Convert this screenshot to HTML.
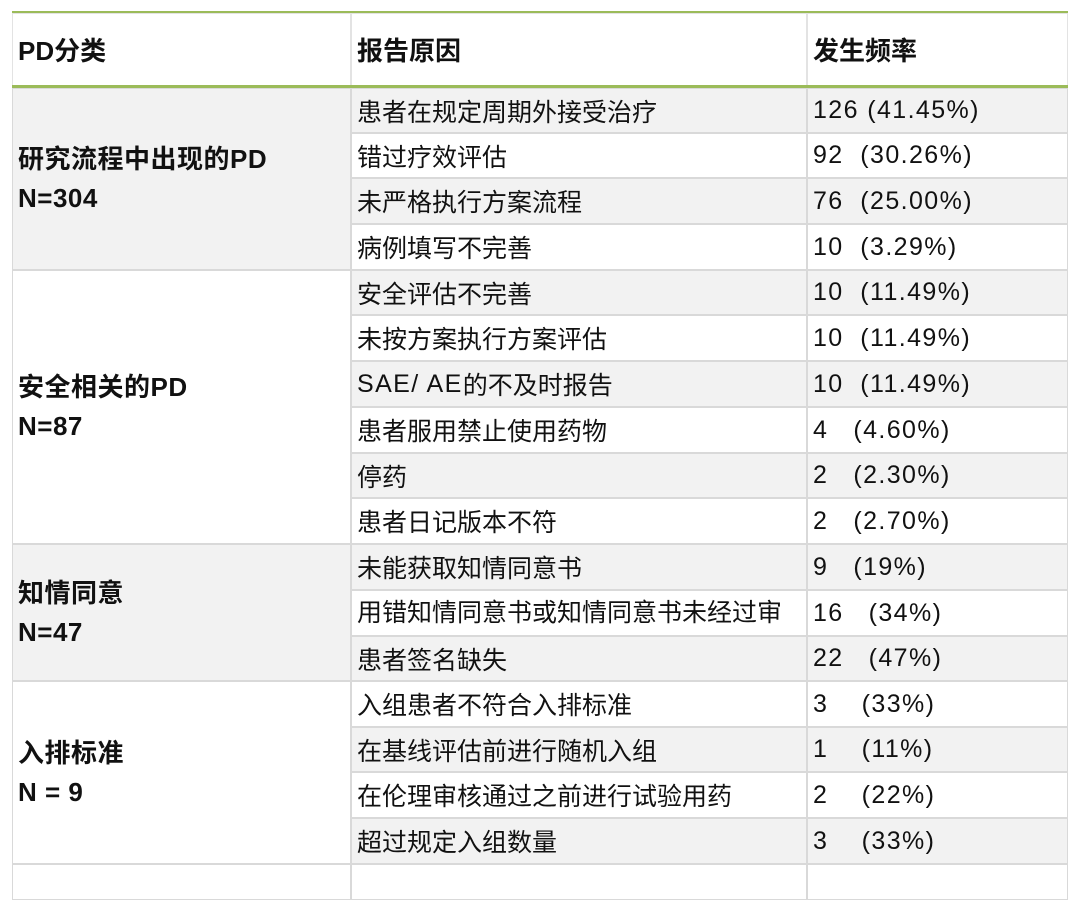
<!DOCTYPE html>
<html><head><meta charset="utf-8"><style>
html,body{margin:0;padding:0;background:#fff;width:1080px;height:913px;overflow:hidden}
body{position:relative;font-family:"Liberation Sans","Noto Sans CJK SC",sans-serif;color:#111}
.c{position:absolute;box-sizing:border-box;border:1px solid #d9d9d9;font-size:25px;display:flex;align-items:center;padding-left:5px;white-space:nowrap;overflow:hidden}
.n{letter-spacing:1.4px}
.g{background:#f2f2f2}
.w{background:#fff}
.h{font-weight:bold;border-color:#e3e3e3;font-size:26px}
.grp{font-weight:bold;line-height:39px;padding-left:5px;letter-spacing:0.5px;font-size:26px}
</style></head><body>
<div style="position:absolute;left:12px;top:11px;width:1056px;height:2px;background:#9bbb59"></div>
<div class="c w h" style="left:12px;top:13px;width:339px;height:73px">PD分类</div>
<div class="c w h" style="left:351px;top:13px;width:456px;height:73px">报告原因</div>
<div class="c w h" style="left:807px;top:13px;width:261px;height:73px">发生频率</div>
<div style="position:absolute;left:12px;top:85px;width:1056px;height:3px;background:#9bbb59"></div>

<div class="c g grp" style="left:12px;top:88px;width:339px;height:182px">研究流程中出现的PD<br>N=304</div>
<div class="c w grp" style="left:12px;top:270px;width:339px;height:274px">安全相关的PD<br>N=87</div>
<div class="c g grp" style="left:12px;top:544px;width:339px;height:137px">知情同意<br>N=47</div>
<div class="c w grp" style="left:12px;top:681px;width:339px;height:183px">入排标准<br>N = 9</div>
<div class="c w" style="left:12px;top:864px;width:339px;height:36px"></div>

<div class="c g" style="left:351px;top:88px;width:456px;height:45px">患者在规定周期外接受治疗</div>
<div class="c g n" style="left:807px;top:88px;width:261px;height:45px">126 (41.45%)</div>
<div class="c w" style="left:351px;top:133px;width:456px;height:45px">错过疗效评估</div>
<div class="c w n" style="left:807px;top:133px;width:261px;height:45px">92&nbsp; (30.26%)</div>
<div class="c g" style="left:351px;top:178px;width:456px;height:46px">未严格执行方案流程</div>
<div class="c g n" style="left:807px;top:178px;width:261px;height:46px">76&nbsp; (25.00%)</div>
<div class="c w" style="left:351px;top:224px;width:456px;height:46px">病例填写不完善</div>
<div class="c w n" style="left:807px;top:224px;width:261px;height:46px">10&nbsp; (3.29%)</div>
<div class="c g" style="left:351px;top:270px;width:456px;height:45px">安全评估不完善</div>
<div class="c g n" style="left:807px;top:270px;width:261px;height:45px">10&nbsp; (11.49%)</div>
<div class="c w" style="left:351px;top:315px;width:456px;height:46px">未按方案执行方案评估</div>
<div class="c w n" style="left:807px;top:315px;width:261px;height:46px">10&nbsp; (11.49%)</div>
<div class="c g" style="left:351px;top:361px;width:456px;height:46px"><span class="n">SAE/ AE</span>的不及时报告</div>
<div class="c g n" style="left:807px;top:361px;width:261px;height:46px">10&nbsp; (11.49%)</div>
<div class="c w" style="left:351px;top:407px;width:456px;height:46px">患者服用禁止使用药物</div>
<div class="c w n" style="left:807px;top:407px;width:261px;height:46px">4&nbsp;&nbsp; (4.60%)</div>
<div class="c g" style="left:351px;top:453px;width:456px;height:45px">停药</div>
<div class="c g n" style="left:807px;top:453px;width:261px;height:45px">2&nbsp;&nbsp; (2.30%)</div>
<div class="c w" style="left:351px;top:498px;width:456px;height:46px">患者日记版本不符</div>
<div class="c w n" style="left:807px;top:498px;width:261px;height:46px">2&nbsp;&nbsp; (2.70%)</div>
<div class="c g" style="left:351px;top:544px;width:456px;height:46px">未能获取知情同意书</div>
<div class="c g n" style="left:807px;top:544px;width:261px;height:46px">9&nbsp;&nbsp; (19%)</div>
<div class="c w" style="left:351px;top:590px;width:456px;height:46px;align-items:flex-start;line-height:40px;padding-top:2px;white-space:normal">用错知情同意书或知情同意书未经过审<br>核</div>
<div class="c w n" style="left:807px;top:590px;width:261px;height:46px">16&nbsp;&nbsp; (34%)</div>
<div class="c g" style="left:351px;top:636px;width:456px;height:45px">患者签名缺失</div>
<div class="c g n" style="left:807px;top:636px;width:261px;height:45px">22&nbsp;&nbsp; (47%)</div>
<div class="c w" style="left:351px;top:681px;width:456px;height:46px">入组患者不符合入排标准</div>
<div class="c w n" style="left:807px;top:681px;width:261px;height:46px">3&nbsp;&nbsp;&nbsp; (33%)</div>
<div class="c g" style="left:351px;top:727px;width:456px;height:45px">在基线评估前进行随机入组</div>
<div class="c g n" style="left:807px;top:727px;width:261px;height:45px">1&nbsp;&nbsp;&nbsp; (11%)</div>
<div class="c w" style="left:351px;top:772px;width:456px;height:46px">在伦理审核通过之前进行试验用药</div>
<div class="c w n" style="left:807px;top:772px;width:261px;height:46px">2&nbsp;&nbsp;&nbsp; (22%)</div>
<div class="c g" style="left:351px;top:818px;width:456px;height:46px">超过规定入组数量</div>
<div class="c g n" style="left:807px;top:818px;width:261px;height:46px">3&nbsp;&nbsp;&nbsp; (33%)</div>
<div class="c w" style="left:351px;top:864px;width:456px;height:36px"></div>
<div class="c w" style="left:807px;top:864px;width:261px;height:36px"></div>
</body></html>
